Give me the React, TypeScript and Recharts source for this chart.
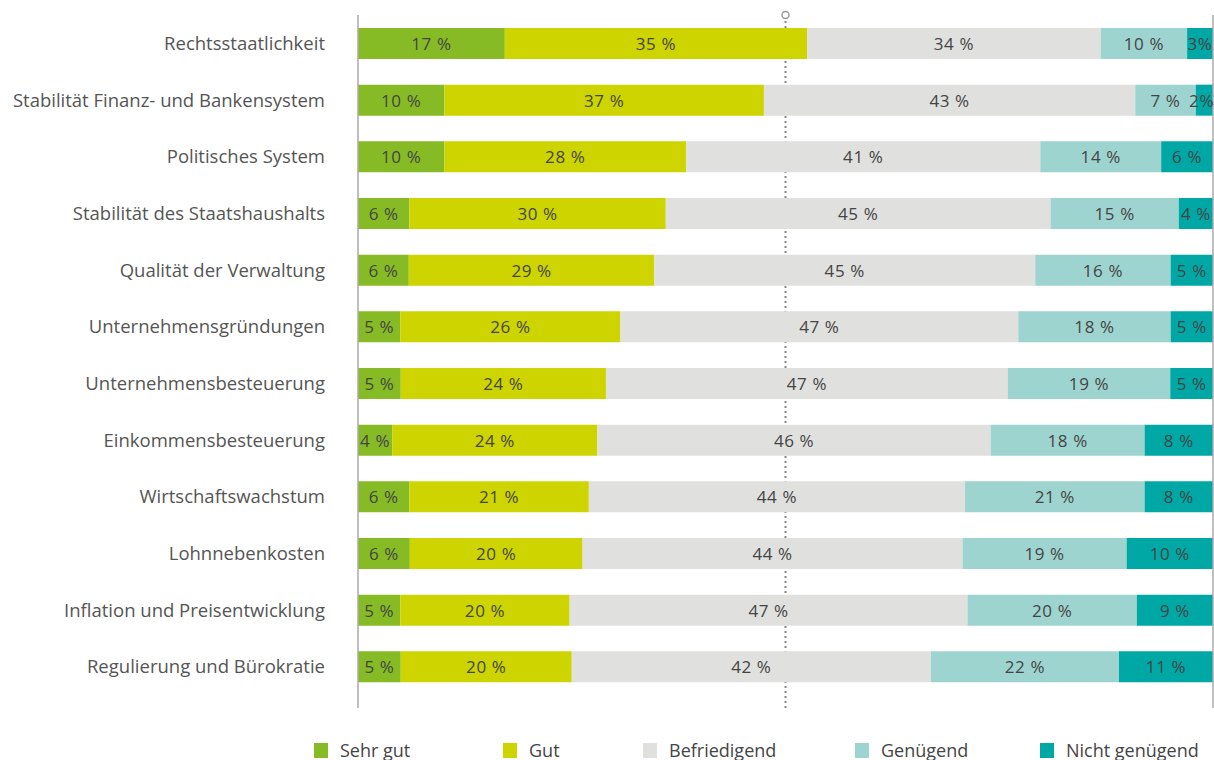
import React from 'react';
import { BarChart, Bar, XAxis, YAxis, ReferenceLine, Legend, LabelList } from 'recharts';

// Kategorien (von oben nach unten)
const categories = [
  'Rechtsstaatlichkeit',
  'Stabilität Finanz- und Bankensystem',
  'Politisches System',
  'Stabilität des Staatshaushalts',
  'Qualität der Verwaltung',
  'Unternehmensgründungen',
  'Unternehmensbesteuerung',
  'Einkommensbesteuerung',
  'Wirtschaftswachstum',
  'Lohnnebenkosten',
  'Inflation und Preisentwicklung',
  'Regulierung und Bürokratie',
];

// Anteile in %
const sehrGut = [17, 10, 10, 6, 6, 5, 5, 4, 6, 6, 5, 5];
const gut = [35, 37, 28, 30, 29, 26, 24, 24, 21, 20, 20, 20];
const befriedigend = [34, 43, 41, 45, 45, 47, 47, 46, 44, 44, 47, 42];
const genuegend = [10, 7, 14, 15, 16, 18, 19, 18, 21, 19, 20, 22];
const nichtGenuegend = [3, 2, 6, 4, 5, 5, 5, 8, 8, 10, 9, 11];

const series = [
  { key: 'sehrGut', name: 'Sehr gut', color: '#86bb25', values: sehrGut },
  { key: 'gut', name: 'Gut', color: '#cdd400', values: gut },
  { key: 'befriedigend', name: 'Befriedigend', color: '#e0e0de', values: befriedigend },
  { key: 'genuegend', name: 'Genügend', color: '#9ed4cf', values: genuegend },
  { key: 'nichtGenuegend', name: 'Nicht genügend', color: '#00a8a5', values: nichtGenuegend },
];

const data = categories.map((name, i) => {
  const row: Record<string, string | number> = { name };
  series.forEach((s) => {
    row[s.key] = s.values[i];
  });
  return row;
});

const FONT = '"Open Sans", sans-serif';
const CHART_W = 1214;
const MARGIN = { top: 15, right: 1, bottom: 32, left: 8 };

const formatPct = (v: any) => (Number(v) <= 3 ? `${v}%` : `${v} %`);

// Wertelabel mittig, am rechten Rand aber nicht abgeschnitten
const ValueLabel = (props: any) => {
  const { x, y, width, height, value } = props;
  const text = formatPct(value);
  const textW = text.length * 9.4;
  const rightLimit = CHART_W - MARGIN.right - 2;
  const cx = Math.min(x + width / 2, rightLimit - textW / 2);
  return (
    <text
      x={cx}
      y={y + height / 2}
      textAnchor="middle"
      dominantBaseline="central"
      fill="#444"
      fontSize={17}
      letterSpacing={0.6}
      fontFamily={FONT}
    >
      {text}
    </text>
  );
};

// Legendenpositionen (linke Kante der Farbfelder)
const legendLeft = [314, 503, 643, 855, 1040];

const renderLegend = () => (
  <div style={{ position: 'relative', width: CHART_W, height: 20, fontFamily: FONT }}>
    {series.map((s, i) => (
      <div
        key={s.key}
        style={{
          position: 'absolute',
          left: legendLeft[i],
          top: 0,
          display: 'flex',
          alignItems: 'center',
          whiteSpace: 'nowrap',
        }}
      >
        <span style={{ display: 'inline-block', width: 14, height: 15, background: s.color, marginRight: 12 }} />
        <span style={{ fontSize: 18, color: '#444', lineHeight: '20px' }}>{s.name}</span>
      </div>
    ))}
  </div>
);

const MidMarker = (props: any) => {
  const { viewBox } = props;
  if (!viewBox) return null;
  return <circle cx={viewBox.x} cy={viewBox.y} r={3.5} fill="#fff" stroke="#999" strokeWidth={1.5} />;
};

const App: React.FC = () => {
  return (
    <div style={{ position: 'absolute', left: 0, top: 0, width: CHART_W, height: 760, fontFamily: FONT, background: '#fff' }}>
      <BarChart
        width={CHART_W}
        height={760}
        data={data}
        layout="vertical"
        stackOffset="expand"
        barSize={31}
        margin={MARGIN}
      >
        <XAxis type="number" domain={[0, 1]} hide />
        <YAxis
          type="category"
          dataKey="name"
          width={350}
          axisLine={{ stroke: '#aaa', strokeWidth: 1.5 }}
          tickLine={false}
          tickSize={0}
          tickMargin={33}
          padding={{ top: 0, bottom: 13 }}
          tick={{ fill: '#555', fontSize: 18.5, fontFamily: FONT }}
          interval={0}
        />
        <ReferenceLine
          x={0.5}
          stroke="#888"
          strokeWidth={2}
          strokeDasharray="2 3"
          zIndex={-1}
          label={<MidMarker />}
        />
        <ReferenceLine x={1} stroke="#aaa" strokeWidth={1.5} />
        {series.map((s) => (
          <Bar key={s.key} dataKey={s.key} name={s.name} stackId="a" fill={s.color} isAnimationActive={false}>
            <LabelList dataKey={s.key} content={<ValueLabel />} />
          </Bar>
        ))}
        <Legend
          verticalAlign="bottom"
          content={renderLegend}
          wrapperStyle={{ left: 0, top: 740, width: CHART_W }}
        />
      </BarChart>
    </div>
  );
};

export default App;
